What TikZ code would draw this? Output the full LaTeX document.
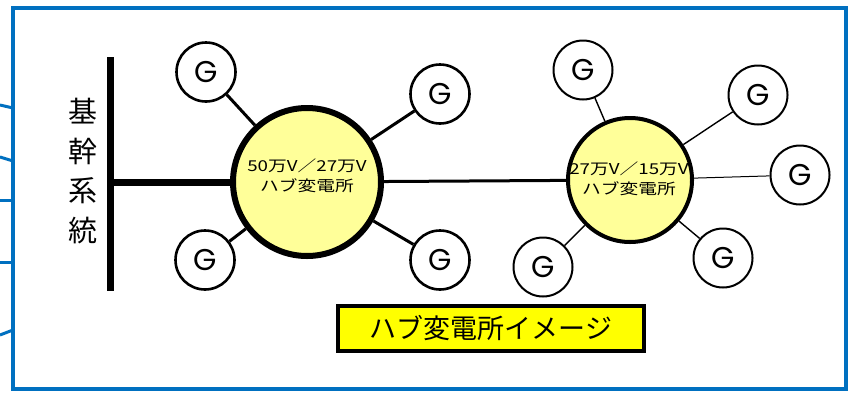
\documentclass[tikz,border=0pt]{standalone}
\usepackage{fontspec}
\setmainfont{Noto Sans CJK JP}
\newfontfamily\gfont{Poppins}
\definecolor{frameblue}{HTML}{0070C0}
\definecolor{hubyellow}{HTML}{FFFF99}
\definecolor{labelyellow}{HTML}{FFFF00}
\tikzset{
  hubA/.style={circle, draw=black, line width=6pt, fill=hubyellow, minimum size=148pt, inner sep=0pt},
  hubB/.style={circle, draw=black, line width=4pt, fill=hubyellow, minimum size=124pt, inner sep=0pt},
  genA/.style={circle, draw=black, line width=2.6pt, fill=white, minimum size=59pt, inner sep=0pt, font=\gfont\fontsize{30}{30}\selectfont},
  genB/.style={circle, draw=black, line width=2pt, fill=white, minimum size=59pt, inner sep=0pt, font=\gfont\fontsize{30}{30}\selectfont},
  linkA/.style={line width=3pt},
  linkB/.style={line width=1.4pt},
  hubtext/.style={align=center, font=\fontsize{15}{20}\selectfont, inner sep=0pt},
}
\newcommand{\wideline}[1]{\scalebox{1.25}[1]{#1}}
\begin{document}
\begin{tikzpicture}[x=1pt,y=-1pt]
\useasboundingbox (0,0) rectangle (850,394);
% blue frame and stubs
\draw[frameblue, line width=4pt] (13,8) rectangle (846,389);
\draw[frameblue, line width=3pt] (0,105) -- (13,108);
\draw[frameblue, line width=3pt] (0,157) -- (13,161);
\draw[frameblue, line width=3pt] (0,200) -- (13,200);
\draw[frameblue, line width=3pt] (0,262) -- (13,262);
\draw[frameblue, line width=3pt] (0,335) -- (13,330);
% trunk system bus
\coordinate (busTop) at (110,57);
\coordinate (busBot) at (110,291);
\coordinate (busJ) at (110,182);
\draw[line width=7pt] (busTop) -- (busBot);
\node[align=center, font=\fontsize{29}{39.5}\selectfont, inner sep=0pt] (kikan) at (83,171) {基\\幹\\系\\統};
% hubs
\node[hubA] (hub1) at (307,182) {};
\node[hubB] (hub2) at (630,180) {};
\draw[line width=7pt] (busJ) -- (hub1);
\draw[line width=3pt] (hub1) -- (hub2);
\node[hubtext] (t1) at (307,176) {\wideline{50万V／27万V}\\\wideline{ハブ変電所}};
\node[hubtext] (t2) at (629,179) {\wideline{27万V／15万V}\\\wideline{ハブ変電所}};
% generators of hub 1
\node[genA] (g1) at (206,72) {G};
\node[genA] (g2) at (440,94) {G};
\node[genA] (g3) at (205,260) {G};
\node[genA] (g4) at (440,260) {G};
\draw[linkA] (hub1) -- (g1);
\draw[linkA] (hub1) -- (g2);
\draw[linkA] (hub1) -- (g3);
\draw[linkA] (hub1) -- (g4);
% generators of hub 2
\node[genB] (h1) at (583,70) {G};
\node[genB] (h2) at (758,95) {G};
\node[genB] (h3) at (800,175) {G};
\node[genB] (h4) at (543,267) {G};
\node[genB] (h5) at (723,258) {G};
\draw[linkB] (hub2) -- (h1);
\draw[linkB] (hub2) -- (h2);
\draw[line width=1pt] (hub2) -- (h3);
\draw[linkB] (hub2) -- (h4);
\draw[linkB] (hub2) -- (h5);
% caption box
\node[draw=black, line width=4pt, fill=labelyellow, minimum width=306pt, minimum height=45pt, inner sep=0pt, font=\fontsize{27}{27}\selectfont] (cap) at (491,328.5) {ハブ変電所イメージ};
\end{tikzpicture}
\end{document}
